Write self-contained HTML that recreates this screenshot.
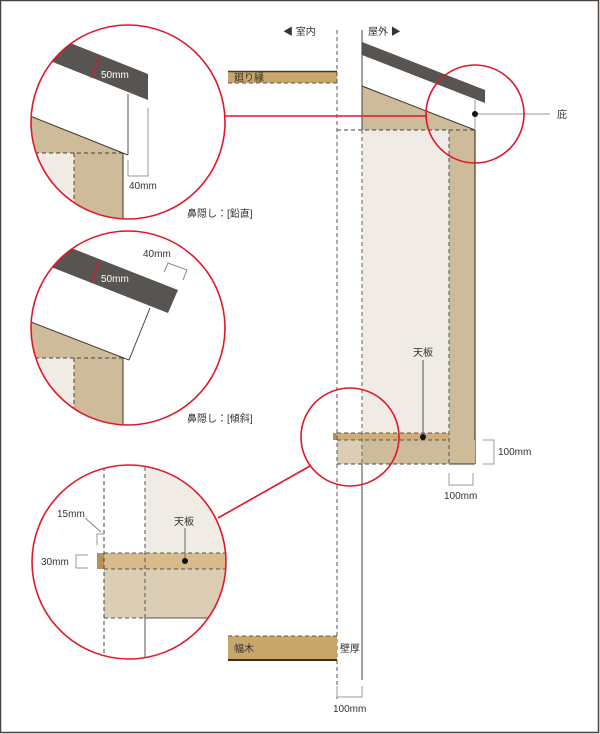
<!DOCTYPE html>
<html><head><meta charset="utf-8"><style>
body{margin:0;background:#fff}
svg{display:block}
text{font-family:"Liberation Sans","Noto Sans CJK JP",sans-serif;font-size:10px;fill:#333}
</style></head><body>
<svg width="600" height="734" viewBox="0 0 600 734" xmlns="http://www.w3.org/2000/svg">
<defs>
<clipPath id="c1"><circle cx="128" cy="122" r="97"/></clipPath>
<clipPath id="c2"><circle cx="128" cy="328" r="97"/></clipPath>
<clipPath id="c4"><circle cx="129" cy="562" r="97"/></clipPath>
</defs>
<rect x="0.5" y="0.5" width="598" height="732" fill="#fff" stroke="#4a4440" stroke-width="1.5"/>

<text x="283" y="35">◀ 室内</text>
<text x="368" y="35">屋外 ▶</text>
<rect x="228" y="71" width="109" height="12" fill="#c9a66b"/>
<line x1="228" y1="71.5" x2="337" y2="71.5" stroke="#4a3a2a" stroke-width="1.5"/>
<line x1="228" y1="83" x2="337" y2="83" stroke="#555" stroke-dasharray="4 3"/>
<text x="234" y="81" font-size="9">廻り縁</text>
<polygon points="362,86 475,130 475,458 362,458" fill="#cdbb9a"/>
<rect x="362" y="130" width="87" height="303" fill="#f0ece5"/>
<polygon points="362,55 485,103 475,103 475,130 362,86" fill="#fff"/>
<line x1="362" y1="86" x2="475" y2="130" stroke="#333" stroke-width="1"/>
<polygon points="362,42 485,90 485,103 362,55" fill="#575451"/>
<line x1="475" y1="130" x2="475" y2="464" stroke="#4a3a2a" stroke-width="1.2"/>
<rect x="337" y="440" width="138" height="24" fill="#cdbb9a"/>
<rect x="337" y="440" width="25" height="24" fill="#dccdb5"/>
<rect x="333" y="433" width="116" height="7" fill="#d0ae74"/>
<rect x="333" y="433" width="4" height="7" fill="#b89058"/>
<line x1="337" y1="433" x2="449" y2="433" stroke="#555" stroke-dasharray="4 3"/>
<line x1="337" y1="440" x2="449" y2="440" stroke="#555" stroke-dasharray="4 3"/>
<line x1="337" y1="464" x2="449" y2="464" stroke="#444" stroke-dasharray="4 3"/>
<line x1="449" y1="464" x2="475" y2="464" stroke="#333"/>
<line x1="337" y1="130" x2="475" y2="130" stroke="#444" stroke-dasharray="4 3"/>
<line x1="449" y1="130" x2="449" y2="464" stroke="#555" stroke-dasharray="4 3"/>
<line x1="362" y1="130" x2="362" y2="464" stroke="#666" stroke-dasharray="4 3"/>
<line x1="337" y1="30" x2="337" y2="700" stroke="#555" stroke-dasharray="4 3"/>
<line x1="362" y1="30" x2="362" y2="130" stroke="#444"/>
<line x1="362" y1="464" x2="362" y2="680" stroke="#444"/>
<line x1="475" y1="100" x2="475" y2="130" stroke="#999"/>
<line x1="475" y1="114" x2="550" y2="114" stroke="#999"/>
<circle cx="475" cy="114" r="3" fill="#111"/>
<text x="557" y="118">庇</text>
<text x="413" y="356">天板</text>
<line x1="423" y1="360" x2="423" y2="437" stroke="#555"/>
<circle cx="423" cy="437" r="3" fill="#111"/>
<polyline points="483,440 494,440 494,464 483,464" fill="none" stroke="#999"/>
<text x="498" y="455">100mm</text>
<polyline points="449,473 449,485 473,485 473,473" fill="none" stroke="#999"/>
<text x="444" y="499">100mm</text>
<rect x="228" y="636" width="109" height="24" fill="#c9a66b"/>
<line x1="228" y1="636" x2="337" y2="636" stroke="#555" stroke-dasharray="4 3"/>
<line x1="228" y1="660" x2="337" y2="660" stroke="#3a2d22" stroke-width="2"/>
<text x="234" y="652" font-size="9">幅木</text>
<text x="340" y="652" font-size="9">壁厚</text>
<polyline points="337,686 337,697 362,697 362,686" fill="none" stroke="#999"/>
<text x="333" y="712">100mm</text>

<circle cx="475" cy="114" r="49" fill="none" stroke="#e0182a" stroke-width="1.6"/>
<circle cx="350" cy="437" r="49" fill="none" stroke="#e0182a" stroke-width="1.6"/>
<line x1="225" y1="116" x2="427" y2="116" stroke="#e0182a" stroke-width="1.6"/>
<line x1="218" y1="518" x2="310" y2="466" stroke="#e0182a" stroke-width="1.6"/>

<g clip-path="url(#c1)">
<polygon points="0,104 128,155 123,153 123,300 0,300" fill="#cdbb9a"/>
<polygon points="0,153 74,153 74,300 0,300" fill="#f0ece5"/>
<line x1="0" y1="104" x2="128" y2="155" stroke="#333"/>
<line x1="35" y1="153" x2="123" y2="153" stroke="#444" stroke-dasharray="4 3"/>
<line x1="74" y1="153" x2="74" y2="230" stroke="#444" stroke-dasharray="4 3"/>
<line x1="123" y1="153" x2="123" y2="230" stroke="#333"/>
<polygon points="0,15 148,74 148,100 0,41" fill="#575451"/>
</g>
<line x1="128" y1="94" x2="128" y2="155" stroke="#555"/>
<line x1="100" y1="56" x2="91" y2="78" stroke="#e0182a" stroke-width="1.2"/>
<text x="101" y="78" style="fill:#fff">50mm</text>
<polyline points="128,160 128,176 148,176 148,108" fill="none" stroke="#999"/>
<text x="129" y="189">40mm</text>
<circle cx="128" cy="122" r="97" fill="none" stroke="#e0182a" stroke-width="1.6"/>
<text x="187" y="217">鼻隠し：[鉛直]</text>

<g clip-path="url(#c2)">
<polygon points="0,310 129,360 123,358 123,500 0,500" fill="#cdbb9a"/>
<polygon points="0,358 74,358 74,500 0,500" fill="#f0ece5"/>
<line x1="0" y1="310" x2="129" y2="360" stroke="#333"/>
<line x1="35" y1="358" x2="123" y2="358" stroke="#444" stroke-dasharray="4 3"/>
<line x1="74" y1="358" x2="74" y2="430" stroke="#444" stroke-dasharray="4 3"/>
<line x1="123" y1="358" x2="123" y2="430" stroke="#333"/>
<polygon points="0,220 178,290 168,313 0,247" fill="#575451"/>
</g>
<line x1="150" y1="308" x2="129" y2="360" stroke="#444"/>
<line x1="100" y1="260" x2="91" y2="283" stroke="#e0182a" stroke-width="1.2"/>
<text x="101" y="282" style="fill:#fff">50mm</text>
<polyline points="164,272 168,263 187,270 183,280" fill="none" stroke="#888"/>
<text x="143" y="257">40mm</text>
<circle cx="128" cy="328" r="97" fill="none" stroke="#e0182a" stroke-width="1.6"/>
<text x="187" y="422">鼻隠し：[傾斜]</text>

<g clip-path="url(#c4)">
<rect x="145" y="460" width="90" height="93" fill="#f0ece5"/>
<rect x="104" y="569" width="130" height="49" fill="#dccdb5"/>
<rect x="97" y="553" width="140" height="16" fill="#d8bb8a"/>
<rect x="97" y="553" width="7" height="16" fill="#b89058"/>
<line x1="104" y1="553" x2="230" y2="553" stroke="#555" stroke-dasharray="4 3"/>
<line x1="104" y1="569" x2="230" y2="569" stroke="#555" stroke-dasharray="4 3"/>
<line x1="104" y1="618" x2="145" y2="618" stroke="#555" stroke-dasharray="4 3"/>
<line x1="145" y1="618" x2="230" y2="618" stroke="#555"/>
<line x1="104" y1="460" x2="104" y2="665" stroke="#444" stroke-dasharray="4 3"/>
<line x1="145" y1="460" x2="145" y2="618" stroke="#555" stroke-dasharray="4 3"/>
<line x1="145" y1="618" x2="145" y2="665" stroke="#555"/>
</g>
<text x="174" y="525">天板</text>
<line x1="185" y1="528" x2="185" y2="561" stroke="#666"/>
<circle cx="185" cy="561" r="3" fill="#111"/>
<text x="57" y="517">15mm</text>
<line x1="85" y1="518" x2="101" y2="532" stroke="#888"/>
<polyline points="97,545 97,534 104,534" fill="none" stroke="#999"/>
<text x="41" y="565">30mm</text>
<polyline points="88,555 76,555 76,568 88,568" fill="none" stroke="#999"/>
<circle cx="129" cy="562" r="97" fill="none" stroke="#e0182a" stroke-width="1.6"/>
</svg>
</body></html>
